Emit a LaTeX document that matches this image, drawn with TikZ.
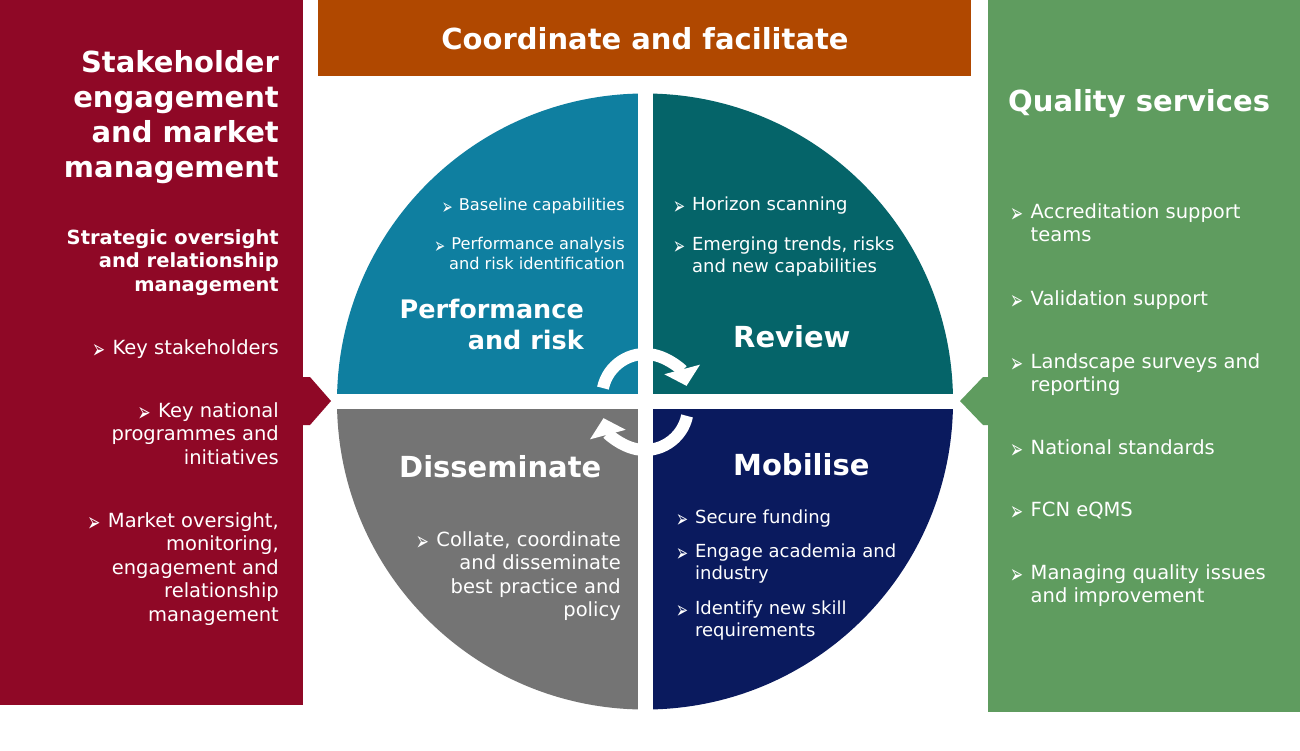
\documentclass[tikz,border=0pt]{standalone}
\usepackage{fontspec}
\setmainfont{DejaVu Sans}
\usepackage{graphicx}
\usetikzlibrary{arrows.meta, positioning}
\definecolor{cStake}{RGB}{143,8,38}
\definecolor{cCoord}{RGB}{176,72,0}
\definecolor{cQual}{RGB}{95,156,95}
\definecolor{cPerf}{RGB}{15,127,160}
\definecolor{cRev}{RGB}{5,100,105}
\definecolor{cDiss}{RGB}{116,116,116}
\definecolor{cMob}{RGB}{10,26,94}
\newcommand{\bul}{\makebox[1.05em][l]{\raisebox{-0.2em}{\scalebox{0.8}[1.35]{➢}}}}
\newcommand{\rlist}[1]{\begin{tabular}{@{}r@{}}#1\end{tabular}}
\newcommand{\llist}[1]{\begin{tabular}{@{}l@{}l@{}}\bul&#1\end{tabular}}
\tikzset{
	ttl/.style   ={inner sep=0pt, text=white, font={\fontsize{29}{35}\selectfont\bfseries}},
	ptl/.style   ={ttl, font={\fontsize{25.5}{31}\selectfont\bfseries}},
	txt/.style   ={inner sep=0pt, text=white, font={\fontsize{19.5}{23.5}\selectfont}},
	txtb/.style  ={txt, font={\fontsize{19.5}{23.5}\selectfont\bfseries}},
	qsmall/.style={txt, font={\fontsize{16.2}{19.5}\selectfont}},
	qmid/.style  ={txt, font={\fontsize{18}{22}\selectfont}},
	% cycle arrows in the middle of the wheel
	cyc/.style   ={white, line width=12pt, -{Triangle[width=36pt, length=17pt]}},
}

\begin{document}
\begin{tikzpicture}[x=1pt, y=-1pt]
	\fill[white] (0,0) rectangle (1300,750);
	\useasboundingbox (0,0) rectangle (1300,750);
	% left panel
	\fill[cStake] (0,0) rectangle (303,705);
	\fill[cStake] (303,377) -- (310,377) -- (331,401) -- (310,425) -- (303,425) -- cycle;
	\node[ttl, align=right, anchor=north east] (stake) at (279,50) {Stakeholder\\engagement\\and market\\management};
	\node[txtb, anchor=north east] (strat) at (279,227.5) {\rlist{Strategic oversight\\and relationship\\management}};
	\node[txt, anchor=north east] (keyst) at (279,337.5) {\rlist{\bul Key stakeholders}};
	\node[txt, anchor=north east] (keynat) at (279,400.5) {\rlist{\bul Key national\\programmes and\\initiatives}};
	\node[txt, anchor=north east] (market) at (279,510.5) {\rlist{\bul Market oversight,\\monitoring,\\engagement and\\relationship\\management}};
	% top bar
	\fill[cCoord] (318,0) rectangle (971,76);
	\node[ttl] (coord) at (645,39) {Coordinate and facilitate};
	% right panel
	\fill[cQual] (988,0) rectangle (1300,712);
	\fill[cQual] (988,377) -- (983,377) -- (960,401) -- (983,425) -- (988,425) -- cycle;
	\node[ttl, anchor=base west] (qual) at (1008,111) {Quality services};
	\node[txt, anchor=north west] (accr) at (1010,201.5) {\llist{Accreditation support\\&teams}};
	\node[txt, anchor=north west] (valid) at (1010,288.5) {\llist{Validation support}};
	\node[txt, anchor=north west] (land) at (1010,351.5) {\llist{Landscape surveys and\\&reporting}};
	\node[txt, anchor=north west] (natstd) at (1010,437.5) {\llist{National standards}};
	\node[txt, anchor=north west] (fcn) at (1010,499.5) {\llist{FCN eQMS}};
	\node[txt, anchor=north west] (manage) at (1010,562.5) {\llist{Managing quality issues\\&and improvement}};
	% wheel
	\begin{scope}
		\clip (645,401.5) circle (308);
		\fill[cPerf] (330,90) rectangle (637.5,394);
		\fill[cRev] (652.5,90) rectangle (960,394);
		\fill[cDiss] (330,409) rectangle (637.5,715);
		\fill[cMob] (652.5,409) rectangle (960,715);
	\end{scope}
	\foreach \cy/\sa in {397/192, 407/12}
		\draw[cyc] ([shift={(\sa:43)}]645,\cy) arc[start angle=\sa, end angle=\sa+153, radius=43];
	% performance and risk
	\node[qsmall, anchor=north east] (base) at (625,197) {\rlist{\bul Baseline capabilities}};
	\node[qsmall, anchor=north east] (panal) at (625,236) {\rlist{\bul Performance analysis\\and risk identification}};
	\node[ptl, align=right, anchor=north east] (perf) at (584,299) {Performance\\and risk};
	% review
	\node[qmid, anchor=north west] (horiz) at (673,195) {\llist{Horizon scanning}};
	\node[qmid, anchor=north west] (emerg) at (673,235) {\llist{Emerging trends, risks\\&and new capabilities}};
	\node[ttl, anchor=west] (rev) at (733,337) {Review};
	% disseminate
	\node[ttl, anchor=west] (diss) at (399,467) {Disseminate};
	\node[txt, anchor=north east] (coll) at (621,529.5) {\rlist{\bul Collate, coordinate\\and disseminate\\best practice and\\policy}};
	% mobilise
	\node[ttl, anchor=west] (mob) at (733,465) {Mobilise};
	\node[qmid, anchor=north west] (fund) at (676,508) {\llist{Secure funding}};
	\node[qmid, anchor=north west] (acad) at (676,542) {\llist{Engage academia and\\&industry}};
	\node[qmid, anchor=north west] (skill) at (676,599) {\llist{Identify new skill\\&requirements}};
\end{tikzpicture}
\end{document}
